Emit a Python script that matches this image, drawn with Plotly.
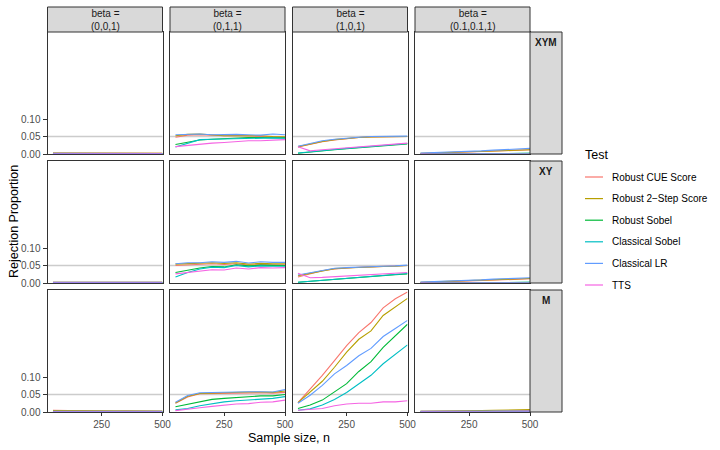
import plotly.graph_objects as go

W, H = 720, 450

n_vals = [50, 100, 150, 200, 250, 300, 350, 400, 450, 500]
tests = ["Robust CUE Score", "Robust 2\u2212Step Score", "Robust Sobel",
         "Classical Sobel", "Classical LR", "TTS"]
colors = ["#F8766D", "#B79F00", "#00BA38", "#00BFC4", "#619CFF", "#F564E3"]
col_labels = ["(0,0,1)", "(0,1,1)", "(1,0,1)", "(0.1,0.1,1)"]
row_labels = ["XYM", "XY", "M"]
y_ticks = [0.00, 0.05, 0.10]
y_tick_text = ["0.00", "0.05", "0.10"]
x_ticks = [250, 500]
ref_level = 0.05

# ---- data: rejection proportions per panel (order of `tests`) ----
xym_001 = [
    [0.003, 0.003, 0.002, 0.002, 0.002, 0.002, 0.003, 0.003, 0.002, 0.002],
    [0.003, 0.003, 0.003, 0.002, 0.002, 0.002, 0.003, 0.003, 0.003, 0.002],
    [0.001, 0.001, 0.001, 0.001, 0.001, 0.001, 0.001, 0.001, 0.001, 0.001],
    [0.001, 0.001, 0.001, 0.001, 0.001, 0.001, 0.001, 0.001, 0.001, 0.001],
    [0.002, 0.002, 0.002, 0.002, 0.001, 0.001, 0.002, 0.003, 0.002, 0.001],
    [0.000, 0.000, 0.000, 0.000, 0.000, 0.000, 0.000, 0.000, 0.000, 0.000],
]
xym_011 = [
    [0.048, 0.054, 0.055, 0.053, 0.052, 0.053, 0.051, 0.050, 0.049, 0.048],
    [0.052, 0.056, 0.057, 0.054, 0.052, 0.052, 0.053, 0.052, 0.050, 0.049],
    [0.027, 0.034, 0.040, 0.042, 0.044, 0.046, 0.047, 0.047, 0.046, 0.046],
    [0.020, 0.030, 0.041, 0.042, 0.043, 0.044, 0.045, 0.045, 0.046, 0.045],
    [0.055, 0.057, 0.057, 0.055, 0.056, 0.056, 0.055, 0.054, 0.057, 0.055],
    [0.021, 0.025, 0.028, 0.031, 0.033, 0.036, 0.038, 0.038, 0.040, 0.041],
]
xym_101 = [
    [0.020, 0.028, 0.035, 0.040, 0.044, 0.047, 0.049, 0.049, 0.050, 0.050],
    [0.021, 0.029, 0.036, 0.041, 0.045, 0.047, 0.049, 0.050, 0.050, 0.050],
    [0.002, 0.006, 0.009, 0.012, 0.015, 0.018, 0.021, 0.023, 0.026, 0.029],
    [0.003, 0.007, 0.010, 0.013, 0.016, 0.019, 0.022, 0.024, 0.027, 0.030],
    [0.022, 0.030, 0.038, 0.042, 0.046, 0.048, 0.050, 0.051, 0.050, 0.051],
    [0.021, 0.009, 0.012, 0.015, 0.018, 0.021, 0.024, 0.026, 0.028, 0.031],
]
xym_0101 = [
    [0.001, 0.002, 0.003, 0.004, 0.005, 0.006, 0.008, 0.009, 0.011, 0.012],
    [0.002, 0.003, 0.004, 0.005, 0.006, 0.008, 0.009, 0.010, 0.011, 0.012],
    [0.000, 0.000, 0.001, 0.001, 0.001, 0.001, 0.002, 0.002, 0.002, 0.002],
    [0.000, 0.000, 0.000, 0.001, 0.001, 0.001, 0.001, 0.002, 0.002, 0.002],
    [0.003, 0.004, 0.004, 0.005, 0.007, 0.009, 0.011, 0.012, 0.015, 0.016],
    [0.000, 0.000, 0.000, 0.000, 0.000, 0.000, 0.000, 0.000, 0.000, 0.000],
]
xy_001 = [
    [0.002, 0.002, 0.002, 0.002, 0.002, 0.002, 0.002, 0.002, 0.002, 0.002],
    [0.002, 0.002, 0.002, 0.002, 0.002, 0.002, 0.002, 0.002, 0.002, 0.002],
    [0.001, 0.001, 0.001, 0.001, 0.001, 0.001, 0.001, 0.001, 0.001, 0.001],
    [0.001, 0.001, 0.001, 0.001, 0.001, 0.001, 0.001, 0.001, 0.001, 0.001],
    [0.002, 0.002, 0.002, 0.002, 0.002, 0.002, 0.002, 0.002, 0.002, 0.002],
    [0.000, 0.000, 0.000, 0.000, 0.000, 0.000, 0.000, 0.000, 0.000, 0.000],
]
xy_011 = [
    [0.050, 0.052, 0.053, 0.055, 0.053, 0.055, 0.051, 0.053, 0.052, 0.052],
    [0.054, 0.056, 0.056, 0.058, 0.056, 0.058, 0.054, 0.056, 0.055, 0.055],
    [0.030, 0.037, 0.043, 0.047, 0.046, 0.052, 0.049, 0.051, 0.050, 0.050],
    [0.017, 0.030, 0.040, 0.045, 0.044, 0.050, 0.046, 0.049, 0.048, 0.048],
    [0.055, 0.058, 0.058, 0.061, 0.059, 0.062, 0.057, 0.061, 0.059, 0.059],
    [0.026, 0.030, 0.034, 0.038, 0.037, 0.043, 0.040, 0.044, 0.043, 0.044],
]
xy_101 = [
    [0.017, 0.027, 0.035, 0.040, 0.043, 0.045, 0.046, 0.047, 0.048, 0.050],
    [0.021, 0.028, 0.036, 0.041, 0.043, 0.045, 0.046, 0.047, 0.048, 0.050],
    [0.002, 0.005, 0.008, 0.011, 0.013, 0.016, 0.019, 0.021, 0.024, 0.026],
    [0.002, 0.005, 0.008, 0.011, 0.014, 0.016, 0.019, 0.022, 0.024, 0.027],
    [0.023, 0.030, 0.037, 0.042, 0.044, 0.046, 0.047, 0.048, 0.049, 0.051],
    [0.028, 0.015, 0.016, 0.018, 0.020, 0.022, 0.024, 0.026, 0.028, 0.030],
]
xy_0101 = [
    [0.001, 0.002, 0.003, 0.004, 0.005, 0.006, 0.008, 0.009, 0.011, 0.012],
    [0.002, 0.003, 0.004, 0.005, 0.006, 0.008, 0.009, 0.010, 0.012, 0.013],
    [0.000, 0.000, 0.001, 0.001, 0.001, 0.001, 0.002, 0.002, 0.002, 0.002],
    [0.000, 0.000, 0.000, 0.001, 0.001, 0.001, 0.001, 0.002, 0.002, 0.002],
    [0.003, 0.004, 0.004, 0.005, 0.007, 0.009, 0.011, 0.012, 0.014, 0.015],
    [0.000, 0.000, 0.000, 0.000, 0.000, 0.000, 0.000, 0.000, 0.000, 0.000],
]
m_001 = [
    [0.005, 0.004, 0.003, 0.003, 0.002, 0.002, 0.003, 0.003, 0.002, 0.002],
    [0.004, 0.004, 0.003, 0.003, 0.002, 0.003, 0.003, 0.003, 0.003, 0.003],
    [0.001, 0.001, 0.001, 0.001, 0.001, 0.001, 0.001, 0.001, 0.001, 0.001],
    [0.001, 0.001, 0.001, 0.001, 0.001, 0.001, 0.001, 0.001, 0.001, 0.001],
    [0.002, 0.002, 0.002, 0.002, 0.001, 0.001, 0.002, 0.002, 0.002, 0.002],
    [0.000, 0.000, 0.000, 0.000, 0.000, 0.000, 0.000, 0.000, 0.000, 0.000],
]
m_011 = [
    [0.025, 0.043, 0.052, 0.053, 0.054, 0.055, 0.054, 0.055, 0.054, 0.056],
    [0.026, 0.045, 0.053, 0.054, 0.056, 0.058, 0.057, 0.057, 0.056, 0.060],
    [0.015, 0.022, 0.031, 0.036, 0.039, 0.042, 0.044, 0.046, 0.046, 0.050],
    [0.006, 0.010, 0.018, 0.024, 0.029, 0.032, 0.034, 0.037, 0.039, 0.044],
    [0.028, 0.047, 0.055, 0.056, 0.057, 0.059, 0.058, 0.058, 0.057, 0.064],
    [0.004, 0.007, 0.012, 0.016, 0.020, 0.023, 0.024, 0.028, 0.029, 0.034],
]
m_101 = [
    [0.027, 0.065, 0.105, 0.147, 0.190, 0.227, 0.256, 0.298, 0.324, 0.343],
    [0.027, 0.058, 0.088, 0.128, 0.171, 0.208, 0.232, 0.276, 0.301, 0.325],
    [0.010, 0.020, 0.034, 0.058, 0.081, 0.116, 0.144, 0.185, 0.218, 0.251],
    [0.005, 0.009, 0.020, 0.036, 0.056, 0.081, 0.105, 0.138, 0.166, 0.192],
    [0.025, 0.048, 0.076, 0.109, 0.133, 0.161, 0.182, 0.216, 0.239, 0.262],
    [0.005, 0.008, 0.010, 0.018, 0.023, 0.025, 0.025, 0.029, 0.029, 0.032],
]
m_0101 = [
    [0.002, 0.002, 0.002, 0.003, 0.003, 0.003, 0.003, 0.004, 0.004, 0.004],
    [0.002, 0.002, 0.003, 0.003, 0.004, 0.004, 0.005, 0.006, 0.006, 0.007],
    [0.000, 0.000, 0.001, 0.001, 0.001, 0.001, 0.001, 0.001, 0.001, 0.001],
    [0.000, 0.000, 0.000, 0.001, 0.001, 0.001, 0.001, 0.001, 0.001, 0.001],
    [0.002, 0.002, 0.002, 0.002, 0.002, 0.003, 0.003, 0.003, 0.003, 0.003],
    [0.000, 0.000, 0.000, 0.000, 0.000, 0.000, 0.000, 0.000, 0.000, 0.000],
]

panels = [
    [xym_001, xym_011, xym_101, xym_0101],
    [xy_001, xy_011, xy_101, xy_0101],
    [m_001, m_011, m_101, m_0101],
]

# ---- layout geometry (pixels) ----
FONT = "Liberation Sans, Arial, sans-serif"
col_left = [47.5, 170.0, 292.5, 415.0]
panel_w = 115.0
row_top = [32.0, 161.0, 290.0]
panel_h = 122.0
strip_top = 7.0
strip_right_w = 32.0
border = "#333333"
strip_fill = "#D9D9D9"
x_range = [27.5, 500]
y_range = [0, 0.349]


def px(x):
    return x / W


def py(y):
    return 1 - y / H


fig = go.Figure()
layout = dict(
    template="none",
    width=W, height=H,
    margin=dict(l=0, r=0, t=0, b=0, pad=0),
    paper_bgcolor="white", plot_bgcolor="white",
    showlegend=False,
    font=dict(family=FONT, color="#1A1A1A"),
)
shapes = []
annotations = []

for r in range(3):
    for c in range(4):
        k = r * 4 + c + 1
        sfx = "" if k == 1 else str(k)
        xa, ya = "xaxis" + sfx, "yaxis" + sfx
        xr, yr = "x" + sfx, "y" + sfx
        layout[xa] = dict(
            domain=[px(col_left[c]), px(col_left[c] + panel_w)],
            anchor=yr, range=x_range, showgrid=False, zeroline=False,
            automargin=False,
            showline=True, mirror=True, linecolor=border, linewidth=1,
            tickvals=x_ticks if r == 2 else [],
            ticks="outside" if r == 2 else "", ticklen=3, tickcolor=border,
            showticklabels=(r == 2),
            tickfont=dict(size=10, color="#4D4D4D", family=FONT),
        )
        layout[ya] = dict(
            domain=[py(row_top[r] + panel_h), py(row_top[r])],
            anchor=xr, range=y_range, showgrid=False, zeroline=False,
            automargin=False,
            showline=True, mirror=True, linecolor=border, linewidth=1,
            tickvals=y_ticks if c == 0 else [], ticktext=y_tick_text,
            ticks="outside" if c == 0 else "", ticklen=4, tickcolor=border,
            showticklabels=(c == 0),
            tickfont=dict(size=10, color="#4D4D4D", family=FONT),
        )
        shapes.append(dict(
            type="line", xref=xr + " domain", yref=yr, x0=0, x1=1,
            y0=ref_level, y1=ref_level, layer="below",
            line=dict(color="#CCCCCC", width=1.4),
        ))
        for t, name in enumerate(tests):
            fig.add_trace(go.Scatter(
                x=n_vals, y=panels[r][c][t], mode="lines", name=name,
                line=dict(color=colors[t], width=1.1),
                xaxis=xr, yaxis=yr, showlegend=False,
            ))

# column strips
for c, lab in enumerate(col_labels):
    shapes.append(dict(
        type="rect", xref="paper", yref="paper",
        x0=px(col_left[c]), x1=px(col_left[c] + panel_w),
        y0=py(row_top[0]), y1=py(strip_top),
        fillcolor=strip_fill, line=dict(color=border, width=1),
    ))
    annotations.append(dict(
        xref="paper", yref="paper", x=px(col_left[c] + panel_w / 2),
        y=py((strip_top + row_top[0]) / 2), text="beta =<br>" + lab,
        showarrow=False, xanchor="center", yanchor="middle",
        font=dict(size=10, color="#1A1A1A", family=FONT),
    ))

# row strips
sx0 = col_left[3] + panel_w
for r, lab in enumerate(row_labels):
    shapes.append(dict(
        type="rect", xref="paper", yref="paper",
        x0=px(sx0), x1=px(sx0 + strip_right_w),
        y0=py(row_top[r] + panel_h), y1=py(row_top[r]),
        fillcolor=strip_fill, line=dict(color=border, width=1),
    ))
    annotations.append(dict(
        xref="paper", yref="paper", x=px(sx0 + strip_right_w / 2),
        y=py(row_top[r] + 3), text="<b>" + lab + "</b>",
        showarrow=False, xanchor="center", yanchor="top",
        font=dict(size=10, color="#1A1A1A", family=FONT),
    ))

# axis titles
annotations.append(dict(
    xref="paper", yref="paper",
    x=px(col_left[0] + (col_left[3] + panel_w - col_left[0]) / 2),
    y=py(438), text="Sample size, n", showarrow=False,
    xanchor="center", yanchor="middle",
    font=dict(size=12.5, color="#000000", family=FONT),
))
annotations.append(dict(
    xref="paper", yref="paper", x=px(14),
    y=py(row_top[0] + (row_top[2] + panel_h - row_top[0]) / 2),
    text="Rejection Proportion", showarrow=False, textangle=-90,
    xanchor="center", yanchor="middle",
    font=dict(size=12.5, color="#000000", family=FONT),
))

# legend (manual, ggplot-style)
leg_x, leg_title_y, leg_y0, leg_dy = 583, 155, 177, 21.6
annotations.append(dict(
    xref="paper", yref="paper", x=px(leg_x), y=py(leg_title_y),
    text="Test", showarrow=False, xanchor="left", yanchor="middle",
    font=dict(size=12.5, color="#000000", family=FONT),
))
for t, name in enumerate(tests):
    yy = leg_y0 + t * leg_dy
    shapes.append(dict(
        type="line", xref="paper", yref="paper",
        x0=px(leg_x + 2), x1=px(leg_x + 20), y0=py(yy), y1=py(yy),
        line=dict(color=colors[t], width=1.2),
    ))
    annotations.append(dict(
        xref="paper", yref="paper", x=px(leg_x + 27), y=py(yy),
        text=name, showarrow=False, xanchor="left", yanchor="middle",
        font=dict(size=10, color="#000000", family=FONT),
    ))

layout["shapes"] = shapes
layout["annotations"] = annotations
fig.update_layout(**layout)
fig.write_html(
    "out.html",
    config={"displayModeBar": False},
    post_script="document.body.style.margin='0px';document.body.style.overflow='hidden';",
)
